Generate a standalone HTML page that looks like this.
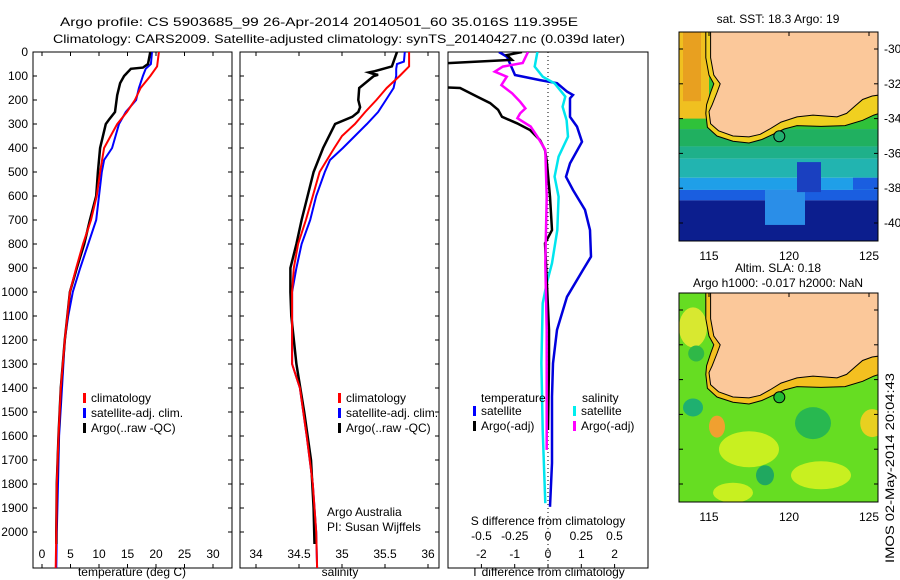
<!DOCTYPE html>
<html><head><meta charset="utf-8"><style>
body{margin:0;background:#fff;}
svg{display:block;font-family:"Liberation Sans",sans-serif;}
text{fill:#000;font-size:12px;}
</style></head><body>
<svg id="c" width="900" height="580" viewBox="0 0 900 580">
<rect width="900" height="580" fill="#fff"/>
<text x="60" y="26" font-size="14" textLength="518" lengthAdjust="spacingAndGlyphs">Argo profile: CS 5903685_99 26-Apr-2014 20140501_60 35.016S 119.395E</text>
<text x="53" y="43" font-size="14" textLength="572" lengthAdjust="spacingAndGlyphs">Climatology: CARS2009. Satellite-adjusted climatology: synTS_20140427.nc (0.039d later)</text>
<g id="g"></g>
</svg>
<script>
// ---- data ----
const tDepth=[0,60,100,150,200,250,300,400,500,600,700,800,900,1000,1200,1400,1600,1800,2000,2150];
const tClim=[20.5,20.2,19.0,17.3,16.3,14.9,13.2,10.9,10.2,9.6,8.6,7.2,6.0,4.9,4.0,3.3,2.9,2.6,2.5,2.4];
const tSatDepth=[0,50,70,100,150,200,250,300,400,450,500,600,700,800,900,1000,1100,1200,1400,1600,1800,2000,2150];
const tSat=[19.3,19.1,18.2,17.7,17.0,16.5,14.7,13.5,12.3,10.9,10.5,10.0,9.5,8.1,6.7,5.4,4.6,4.0,3.5,3.0,2.8,2.6,2.5];
const tArgoDepth=[0,50,65,70,100,130,180,250,280,300,400,500,600,700,800,900,1000,1200,1400,1600,1800,2000,2050];
const tArgo=[19.0,18.6,17.7,15.6,14.4,13.7,13.2,12.8,11.8,11.2,10.2,9.8,9.5,8.4,7.4,6.1,4.9,4.0,3.3,2.9,2.6,2.5,2.5];
const sDepth=[0,60,100,150,200,250,300,350,400,500,600,700,800,900,1000,1300,1400,1600,1800,2000,2150];
const sClim=[35.78,35.78,35.67,35.52,35.40,35.27,35.15,35.00,34.91,34.74,34.66,34.58,34.49,34.44,34.42,34.42,34.51,34.59,34.66,34.70,34.71];
const sSatDepth=[0,40,50,70,100,150,200,250,300,350,400,450,500,600,700,800,900,1000,1300,1400,1600,1800,2000,2150];
const sSat=[35.73,35.72,35.64,35.63,35.63,35.60,35.51,35.42,35.29,35.15,35.01,34.86,34.80,34.70,34.63,34.53,34.47,34.42,34.42,34.51,34.59,34.66,34.70,34.71];
const sArgoDepth=[0,40,60,70,80,85,90,95,100,150,200,230,250,270,300,400,500,600,700,800,900,1000,1100,1300,1500,1700,1900,2050];
const sArgo=[35.64,35.60,35.58,35.48,35.38,35.31,35.35,35.42,35.37,35.2,35.19,35.21,35.19,35.12,34.92,34.78,34.67,34.60,34.53,34.47,34.40,34.40,34.41,34.47,34.56,34.64,34.67,34.68];
const dDepth=[0,20,96,117,130,165,179,193,270,311,374,464,520,575,658,742,853,908,1020,1158,1297,1436,1713,1895];
const dTSat=[-1.47,-1.23,-0.99,-0.24,0.27,0.57,0.75,0.66,0.66,0.87,1.02,0.66,0.54,0.75,1.11,1.26,1.29,1.05,0.57,0.27,0.15,0.12,0.12,0.06];
const dTArgoDepth=[0,13,33,50,145,150,186,213,241,270,297,325,367,408,464,603,742,797,880,1158,1297,1575];
const dTArgo=[-0.78,-1.23,-1.08,-3.5,-3.5,-2.64,-2.13,-1.74,-1.5,-1.38,-0.93,-0.54,-0.24,-0.09,-0.03,0.06,0.12,-0.09,-0.06,0.03,0.03,0.00];
const dSArgoDepth=[0,46,61,82,103,138,172,207,235,256,276,311,353,408,603,880,1158,1436,1658];
const dSArgo=[-0.15,-0.19,-0.34,-0.40,-0.31,-0.35,-0.27,-0.21,-0.17,-0.21,-0.23,-0.13,-0.08,-0.02,-0.01,-0.02,-0.01,-0.01,-0.01];
const dSSatDepth=[0,61,103,131,186,228,284,353,436,519,603,742,880,964,1047,1297,1575,1880];
const dSSat=[-0.08,-0.10,-0.04,0.05,0.13,0.11,0.14,0.15,0.08,0.05,0.08,0.07,0.03,-0.01,-0.04,-0.05,-0.04,-0.02];
const depthTicks=[0,100,200,300,400,500,600,700,800,900,1000,1100,1200,1300,1400,1500,1600,1700,1800,1900,2000];
const tTicks=[0,5,10,15,20,25,30];
const sTicks=[34,34.5,35,35.5,36];
const dTTicks=[-2,-1,0,1,2];
const dSTicks=[-0.5,-0.25,0,0.25,0.5];
const dSTickLabels=["-0.5","-0.25","0","0.25","0.5"];
const latTicks=[-30,-32,-34,-36,-38,-40];
const lonTicks=[115,120,125];

const NS="http://www.w3.org/2000/svg";
const G=document.getElementById('g');
function mk(tag,at,parent){const e=document.createElementNS(NS,tag);for(const k in at)e.setAttribute(k,at[k]);(parent||G).appendChild(e);return e;}
const yD=d=>52+d*0.24;
const yTop=52,yBot=568;
const panels=[
 {x0:33,x1:232,fx:v=>42+5.7*v,name:'temperature-panel'},
 {x0:240,x1:439,fx:v=>256+86*(v-34),name:'salinity-panel'},
 {x0:448,x1:648,fx:v=>548+33.3*v,name:'difference-panel'}];
const fS=v=>548+133*v;

panels.forEach((p,i)=>{
 const fr=mk('rect',{x:p.x0,y:yTop,width:p.x1-p.x0,height:yBot-yTop,fill:'none',stroke:'#000','stroke-width':1});
 
 
 const cp=mk('clipPath',{id:'cp'+i});mk('rect',{x:p.x0,y:yTop,width:p.x1-p.x0,height:yBot-yTop},cp);
 if(i<2)depthTicks.forEach(d=>{
  mk('line',{x1:p.x0,x2:p.x0+4,y1:yD(d),y2:yD(d),stroke:'#000'});
  mk('line',{x1:p.x1-4,x2:p.x1,y1:yD(d),y2:yD(d),stroke:'#000'});
 });
});
depthTicks.forEach(d=>{const t=mk('text',{x:28,y:yD(d)+4,'text-anchor':'end'});t.textContent=d;
 
 });
function xt(vals,fx,name){vals.forEach(v=>{const x=fx(v);
 mk('line',{x1:x,x2:x,y1:yBot,y2:yBot-4,stroke:'#000'});mk('line',{x1:x,x2:x,y1:yTop,y2:yTop+4,stroke:'#000'});
 const t=mk('text',{x:x,y:558,'text-anchor':'middle'});t.textContent=v;
 
 });}
xt(tTicks,panels[0].fx,'temperature-tick-label');
xt(sTicks,panels[1].fx,'salinity-tick-label');
dTTicks.forEach(v=>{const x=panels[2].fx(v);mk('line',{x1:x,x2:x,y1:yBot,y2:yBot-4,stroke:'#000'});
 const t=mk('text',{x:x,y:558,'text-anchor':'middle'});t.textContent=v;
 
 });
dSTicks.forEach((v,k)=>{const t=mk('text',{x:fS(v),y:540,'text-anchor':'middle'});t.textContent=dSTickLabels[k];
 
 });
[['temperature (deg C)',132,'temperature-axis-title'],['salinity',340,'salinity-axis-title'],['T difference from climatology',548,'t-diff-axis-title']].forEach(a=>{
 const t=mk('text',{x:a[1],y:576,'text-anchor':'middle','font-size':13});t.textContent=a[0];
 
 });
const st=mk('text',{x:548,y:525,'text-anchor':'middle','font-size':13});st.textContent='S difference from climatology';


mk('line',{x1:548,x2:548,y1:yTop,y2:yBot,stroke:'#000','stroke-dasharray':'1,3'});

function line(ds,vs,fx,col,clip,name,w){
 let d='';ds.forEach((dp,k)=>{d+=(k?'L':'M')+fx(vs[k]).toFixed(1)+','+yD(dp).toFixed(1);});
 const e=mk('path',{d:d,fill:'none',stroke:col,'stroke-width':w||2,'clip-path':'url(#'+clip+')'});
 
 }
line(tSatDepth,tSat,panels[0].fx,'#0000ff','cp0','temp-satellite-line');
line(tArgoDepth,tArgo,panels[0].fx,'#000','cp0','temp-argo-line',2.5);
line(tDepth,tClim,panels[0].fx,'#ff0000','cp0','temp-climatology-line');
line(sSatDepth,sSat,panels[1].fx,'#0000ff','cp1','sal-satellite-line');
line(sArgoDepth,sArgo,panels[1].fx,'#000','cp1','sal-argo-line',2.5);
line(sDepth,sClim,panels[1].fx,'#ff0000','cp1','sal-climatology-line');
line(dDepth,dTSat,panels[2].fx,'#0000dd','cp2','t-diff-satellite-line',2.5);
line(dSSatDepth,dSSat,fS,'#00e5ee','cp2','s-diff-satellite-line',2.5);
line(dTArgoDepth,dTArgo,panels[2].fx,'#000','cp2','t-diff-argo-line',2.5);
line(dSArgoDepth,dSArgo,fS,'#ff00ff','cp2','s-diff-argo-line',2.5);

function leg(x,y,col,txt,name){mk('rect',{x:x,y:y-9,width:3,height:10,fill:col});
 const t=mk('text',{x:x+8,y:y});t.textContent=txt;
 
 }
[['climatology','#f00'],['satellite-adj. clim.','#00f'],["Argo(..raw -QC)",'#000']].forEach((a,k)=>leg(83,402+k*15,a[1],a[0],'legend-entry'));
[['climatology','#f00'],['satellite-adj. clim.','#00f'],["Argo(..raw -QC)",'#000']].forEach((a,k)=>leg(338,402+k*15,a[1],a[0],'legend-entry'));
let t=mk('text',{x:481,y:402});t.textContent='temperature';

t=mk('text',{x:582,y:402});t.textContent='salinity';

leg(473,415,'#00f','satellite','legend-entry');leg(473,430,'#000','Argo(-adj)','legend-entry');
leg(573,415,'#0ee','satellite','legend-entry');leg(573,430,'#f0f','Argo(-adj)','legend-entry');
t=mk('text',{x:327,y:516});t.textContent='Argo Australia';

t=mk('text',{x:327,y:531});t.textContent='PI: Susan Wijffels';


// ---- maps ----
const coast=[[115.1,-28.5],[115.1,-30.5],[115.3,-31.5],[115.7,-32.0],[115.5,-32.5],[115.2,-33.2],[115.0,-33.6],[115.1,-34.3],[115.6,-34.7],[116.5,-35.0],[117.5,-35.05],[118.2,-34.9],[118.8,-34.6],[119.5,-34.2],[120.5,-33.9],[121.5,-33.8],[123,-33.9],[123.6,-33.7],[124.1,-33.3],[124.6,-32.9],[125.2,-32.7],[126,-32.6],[126,-28.5]];
const iso=[[114.8,-28.5],[114.8,-30.5],[115.0,-31.5],[115.3,-32.0],[115.1,-32.5],[114.85,-33.2],[114.8,-33.7],[114.9,-34.5],[115.5,-35.0],[116.5,-35.3],[117.5,-35.4],[118.3,-35.2],[119.0,-34.9],[119.7,-34.6],[120.5,-34.4],[122,-34.45],[123.5,-34.4],[124.6,-34.1],[125.3,-33.8],[126,-33.6]];
function drawMap(y0,title1,title2,kind){
 const X0=679,X1=878,Y1=y0+209;
 const fx=l=>709+16*(l-115), fy=la=>y0+17+(-30-la)*17.4;
 const cid='mc'+y0;const cp=mk('clipPath',{id:cid});mk('rect',{x:X0,y:y0,width:X1-X0,height:Y1-y0},cp);
 const g=mk('g',{'clip-path':'url(#'+cid+')'});
 
 
 if(kind==='sst'){
  const bands=[[-28,-34.6,'#2fc23a'],[-34.6,-35.6,'#20b060'],[-35.6,-36.3,'#1fb08a'],[-36.3,-37.4,'#22b4b0'],[-37.4,-38.1,'#1f9fe8'],[-38.1,-38.7,'#1a5ee0'],[-38.7,-42,'#0c1e8e']];
  bands.forEach(b=>mk('rect',{x:X0,y:fy(b[0]),width:200,height:fy(b[1])-fy(b[0]),fill:b[2]},g));
  mk('rect',{x:X0,y:y0,width:30,height:fy(-34)-y0,fill:'#f0c020'},g);
  mk('rect',{x:X0+4,y:y0,width:18,height:fy(-33)-y0,fill:'#e8a020'},g);
  mk('rect',{x:fx(118.5),y:fy(-38.1),width:40,height:35,fill:'#2a8ee8'},g);
  mk('rect',{x:fx(120.5),y:fy(-36.5),width:24,height:30,fill:'#1a40c0'},g);
  mk('rect',{x:fx(124),y:fy(-37.4),width:40,height:12,fill:'#1a5ee0'},g);
 }else{
  mk('rect',{x:X0,y:y0,width:200,height:209,fill:'#66dd22'},g);
  [[114,-31,14,20,'#d8e830'],[117.5,-38,30,18,'#c8f020'],[122,-39.5,30,14,'#c8f020'],[125.2,-36.5,12,14,'#e8d020'],[116.5,-40.5,20,10,'#c8f020']].forEach(b=>mk('ellipse',{cx:fx(b[0]),cy:fy(b[1]),rx:b[2],ry:b[3],fill:b[4]},g));
  [[114,-35.6,10,9,'#1fb070'],[114.2,-32.5,8,8,'#2fb848'],[121.5,-36.5,18,16,'#28b850'],[118.5,-39.5,9,10,'#20a860'],[115.5,-36.7,8,11,'#f0a030']].forEach(b=>mk('ellipse',{cx:fx(b[0]),cy:fy(b[1]),rx:b[2],ry:b[3],fill:b[4]},g));
 }
 const band=iso.concat(coast.slice().reverse());
 mk('path',{d:'M'+band.map(p=>fx(p[0]).toFixed(1)+','+fy(p[1]).toFixed(1)).join('L')+'Z',fill:kind==='sst'?'#f0d020':'#f4c020'},g);
 mk('path',{d:'M'+coast.map(p=>fx(p[0]).toFixed(1)+','+fy(p[1]).toFixed(1)).join('L')+'Z',fill:'#fbc89a',stroke:'#000','stroke-width':1},g);
 mk('path',{d:'M'+iso.map(p=>fx(p[0]).toFixed(1)+','+fy(p[1]).toFixed(1)).join('L'),fill:'none',stroke:'#000','stroke-width':1},g);
 const m=mk('circle',{cx:fx(119.395),cy:fy(-35.016),r:5.5,fill:kind==='sst'?'#22b070':'#22bb33',stroke:'#000'},g);
 
 
 mk('rect',{x:X0,y:y0,width:X1-X0,height:Y1-y0,fill:'none',stroke:'#000'});
 latTicks.forEach(la=>{const y=fy(la);mk('line',{x1:X1-4,x2:X1,y1:y,y2:y,stroke:'#000'});mk('line',{x1:X0,x2:X0+4,y1:y,y2:y,stroke:'#000'});
  if(kind==='sst'){const t=mk('text',{x:X1+6,y:y+4});t.textContent=la;
  
  }});
 lonTicks.forEach(l=>{const x=fx(l);mk('line',{x1:x,x2:x,y1:y0,y2:y0+4,stroke:'#000'});
  const t=mk('text',{x:x,y:Y1+19,'text-anchor':'middle'});t.textContent=l;
  
  });
 if(title2){let a=mk('text',{x:778,y:y0-21,'text-anchor':'middle'});a.textContent=title1;
  
  a=mk('text',{x:778,y:y0-6,'text-anchor':'middle'});a.textContent=title2;
  }
 else{const a=mk('text',{x:778,y:y0-9,'text-anchor':'middle'});a.textContent=title1;
  }
}
drawMap(32,'sat. SST: 18.3 Argo: 19',null,'sst');
drawMap(293,'Altim. SLA: 0.18','Argo h1000: -0.017 h2000: NaN','sla');
t=mk('text',{x:0,y:0,transform:'translate(894,563) rotate(-90)',textLength:190,lengthAdjust:'spacingAndGlyphs'});t.textContent='IMOS 02-May-2014 20:04:43';

</script>
</body></html>
